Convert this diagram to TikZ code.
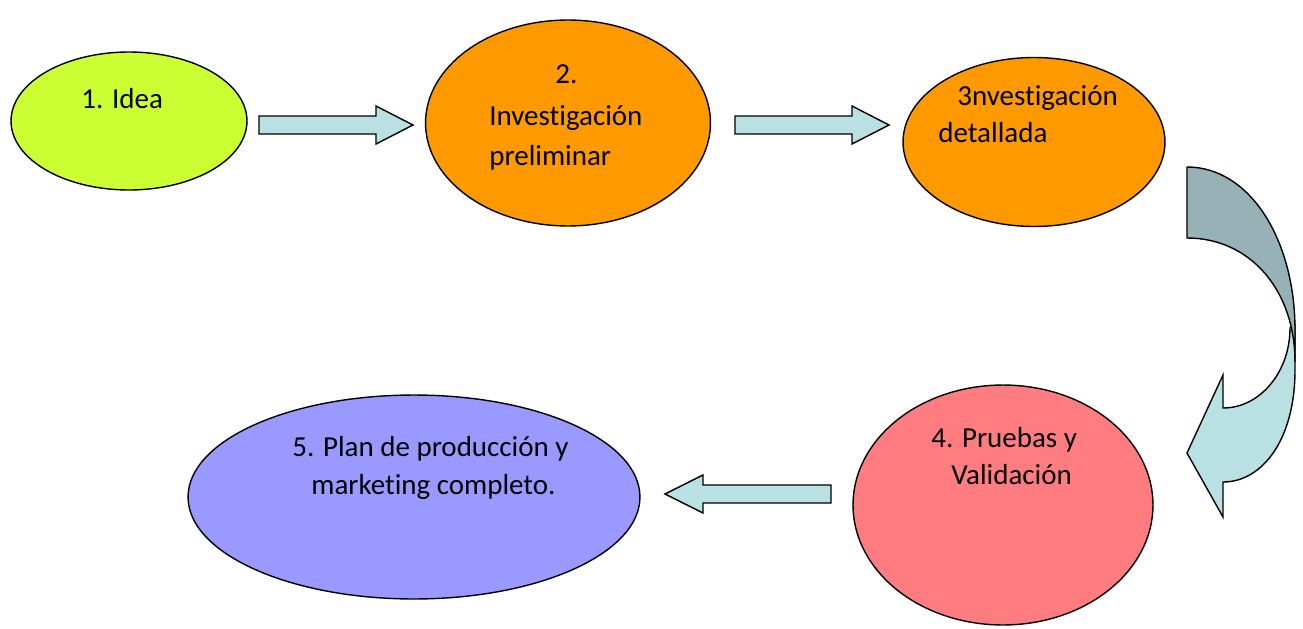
\documentclass[tikz,border=0pt]{standalone}
\usepackage{fontspec}
\setmainfont{Carlito}[Ligatures={NoCommon,NoContextual}]
\usetikzlibrary{shapes.geometric}
\definecolor{limeC}{RGB}{204,255,51}
\definecolor{orangeC}{RGB}{255,153,0}
\definecolor{pinkC}{RGB}{255,124,128}
\definecolor{violetC}{RGB}{153,153,255}
\definecolor{arrowC}{RGB}{185,224,227}
\definecolor{darkC}{RGB}{150,178,183}
\tikzset{
  bubble/.style={ellipse, draw=black, line width=0.8pt, inner sep=0pt},
  lbl/.style={anchor=base west, inner sep=0pt, font=\fontsize{16.5}{19}\selectfont},
  blockarrow/.style={draw=black, fill=arrowC, line width=0.8pt, line join=miter},
}
\begin{document}
\begin{tikzpicture}[x=0.02cm, y=-0.02cm]
\useasboundingbox (0,0) rectangle (1303,629);
% ellipses
\node[bubble, fill=limeC, minimum width=4.72cm, minimum height=2.76cm] (e1) at (129,121) {};
\node[bubble, fill=orangeC, minimum width=5.7cm, minimum height=4.12cm] (e2) at (568,123) {};
\node[bubble, fill=orangeC, minimum width=5.24cm, minimum height=3.38cm] (e3) at (1034,142) {};
\node[bubble, fill=pinkC, minimum width=6.0cm, minimum height=4.8cm] (e4) at (1003,505) {};
\node[bubble, fill=violetC, minimum width=9.04cm, minimum height=4.08cm] (e5) at (414,497) {};
% labels
\node[lbl] (t1) at (81,108) {1. Idea};
\node[lbl] (t2a) at (555,83) {2.};
\node[lbl] (t2b) at (489,125) {Investigación};
\node[lbl] (t2c) at (489,165) {preliminar};
\node[lbl] (t3a) at (957,105) {3nvestigación};
\node[lbl] (t3b) at (938,142) {detallada};
\node[lbl] (t4a) at (931,447) {4. Pruebas y};
\node[lbl] (t4b) at (951,484) {Validación};
\node[lbl] (t5a) at (292,456) {5. Plan de producción y};
\node[lbl] (t5b) at (311,494) {marketing completo.};
% straight block arrows
\draw[blockarrow] (259,116) -- (376,116) -- (376,106) -- (413,125) -- (376,144) -- (376,134) -- (259,134) -- cycle;
\draw[blockarrow] (735,116) -- (852,116) -- (852,106) -- (889,125) -- (852,144) -- (852,134) -- (735,134) -- cycle;
\draw[blockarrow] (831,485) -- (703,485) -- (703,475) -- (665,494) -- (703,513) -- (703,503) -- (831,503) -- cycle;
% curved arrow: light lower part
\draw[blockarrow] (1295,325) -- (1295,370) .. controls (1295,440) and (1262,482) .. (1223,482)
  -- (1223,517) -- (1187,453) -- (1223,375) -- (1223,408)
  .. controls (1260,408) and (1290,372) .. (1290,328) -- cycle;
% curved arrow: dark upper part
\draw[blockarrow, fill=darkC] (1187,167) .. controls (1250,167) and (1295,240) .. (1295,330) -- (1295,362)
  .. controls (1295,290) and (1250,238) .. (1187,238) -- cycle;
\end{tikzpicture}
\end{document}
